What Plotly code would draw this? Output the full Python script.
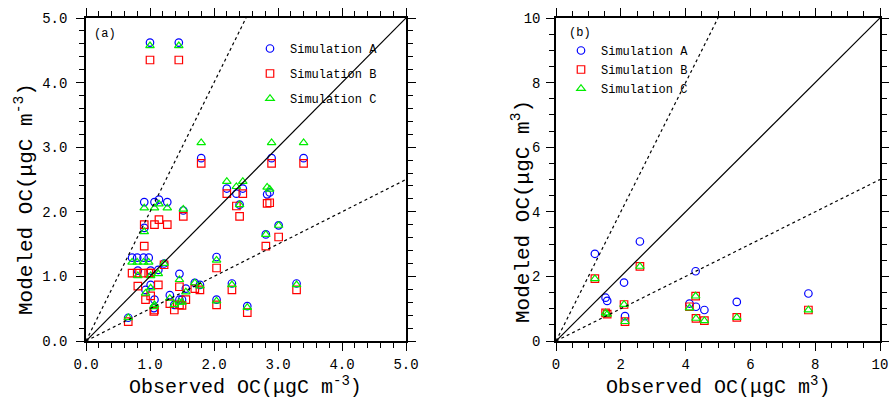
import plotly.graph_objects as go

# ---------------- Panel (a) data ----------------
obs_a = [1.00, 1.45, 1.80, 2.90, 3.40, 2.20, 2.45, 2.35, 2.40, 2.83, 2.87, 2.81, 3.01,
         1.52, 0.91, 1.07, 1.14, 1.27, 0.91, 0.72, 0.80, 0.90, 0.98, 0.81, 1.01, 1.13,
         1.22, 1.01, 0.93, 1.07, 0.66, 1.31, 1.38, 1.46, 1.46, 1.56, 1.70, 1.78, 2.04,
         2.04, 2.28, 2.52, 3.29, 1.06, 1.50]
simA_a = [4.62, 4.62, 2.83, 2.83, 2.83, 2.36, 2.36, 2.28, 2.11, 2.27, 2.30, 1.65, 1.79,
          2.02, 2.15, 2.15, 2.19, 2.15, 1.75, 1.29, 1.29, 1.29, 1.29, 1.09, 1.09, 1.10,
          1.20, 0.87, 0.79, 0.64, 0.36, 0.71, 0.56, 1.04, 0.64, 0.81, 0.90, 0.87, 1.30,
          0.64, 0.89, 0.54, 0.89, 0.51, 0.64]
simB_a = [4.35, 4.35, 2.75, 2.75, 2.75, 2.28, 2.28, 2.09, 1.93, 2.13, 2.14, 1.47, 1.61,
          1.93, 1.80, 1.80, 1.88, 1.80, 1.47, 1.05, 1.05, 1.05, 1.05, 0.85, 1.05, 0.87,
          1.18, 0.70, 0.64, 0.48, 0.30, 0.58, 0.48, 0.84, 0.56, 0.64, 0.81, 0.79, 1.13,
          0.56, 0.79, 0.44, 0.79, 0.46, 0.55]
simC_a = [4.57, 4.57, 3.07, 3.07, 3.07, 2.47, 2.47, 2.39, 2.11, 2.38, 2.35, 1.65, 1.79,
          2.04, 2.06, 2.06, 2.12, 2.06, 1.69, 1.22, 1.22, 1.22, 1.22, 1.01, 1.01, 1.04,
          1.20, 0.82, 0.74, 0.56, 0.36, 0.66, 0.56, 0.95, 0.60, 0.76, 0.90, 0.85, 1.25,
          0.62, 0.87, 0.52, 0.87, 0.53, 0.60]

# ---------------- Panel (b) data ----------------
obs_b = [1.20, 2.59, 2.10, 1.53, 1.58, 2.13, 4.31, 4.12, 4.32, 4.58, 5.58, 7.79]
simA_b = [2.70, 3.08, 1.81, 1.34, 1.24, 0.77, 2.16, 1.16, 1.06, 0.96, 1.21, 1.47]
simB_b = [1.93, 2.31, 1.13, 0.87, 0.83, 0.60, 1.39, 1.06, 0.70, 0.63, 0.73, 0.96]
simC_b = [1.93, 2.31, 1.13, 0.87, 0.83, 0.60, 1.39, 1.02, 0.70, 0.63, 0.73, 0.96]

series_names = ["Simulation A", "Simulation B", "Simulation C"]
colors = ["#0000ff", "#ff0000", "#00ee00"]
symbols = ["circle-open", "square-open", "triangle-up-open"]

AX_MAX_A = 5.0
AX_MAX_B = 10.0
tick_a = [0, 1, 2, 3, 4, 5]
tick_a_text = ["0.0", "1.0", "2.0", "3.0", "4.0", "5.0"]
tick_b = [0, 2, 4, 6, 8, 10]
tick_b_text = ["0", "2", "4", "6", "8", "10"]

FONT = "Liberation Mono"
W, H = 889, 401

fig = go.Figure()

for i, (ys, name) in enumerate(zip([simA_a, simB_a, simC_a], series_names)):
    fig.add_trace(go.Scatter(
        x=obs_a, y=ys, mode="markers", name=name, xaxis="x", yaxis="y",
        legend="legend", legendgroup="a%d" % i,
        marker=dict(symbol=symbols[i], color=colors[i], size=7.5, line=dict(width=1.2)),
    ))
for i, (ys, name) in enumerate(zip([simA_b, simB_b, simC_b], series_names)):
    fig.add_trace(go.Scatter(
        x=obs_b, y=ys, mode="markers", name=name, xaxis="x2", yaxis="y2",
        legend="legend2",
        marker=dict(symbol=symbols[i], color=colors[i], size=7.5, line=dict(width=1.2)),
    ))

# reference lines 1:1, 2:1, 1:2
for xr, yr, m in [("x", "y", AX_MAX_A), ("x2", "y2", AX_MAX_B)]:
    fig.add_shape(type="line", xref=xr, yref=yr, x0=0, y0=0, x1=m, y1=m,
                  line=dict(color="black", width=1.2))
    fig.add_shape(type="line", xref=xr, yref=yr, x0=0, y0=0, x1=m / 2, y1=m,
                  line=dict(color="black", width=1.2, dash="dot"))
    fig.add_shape(type="line", xref=xr, yref=yr, x0=0, y0=0, x1=m, y1=m / 2,
                  line=dict(color="black", width=1.2, dash="dot"))


def axis(domain, rng, tv, tt, minor_dt, anchor, standoff):
    return dict(
        domain=domain, range=rng, anchor=anchor, tickmode="array", tickvals=tv, ticktext=tt,
        ticks="outside", ticklen=8, tickwidth=1.2, tickcolor="black",
        showline=True, linecolor="black", linewidth=1.5, mirror="ticks",
        showgrid=False, zeroline=False, automargin=False,
        tickfont=dict(family=FONT, size=14, color="black"),
        minor=dict(dtick=minor_dt, tick0=0, ticks="outside", ticklen=5, tickwidth=1,
                   tickcolor="black", showgrid=False),
        ticklabelstandoff=standoff,
    )


ydom = [1 - 341 / H, 1 - 18 / H]
fig.update_layout(
    width=W, height=H, margin=dict(l=0, r=0, t=0, b=0),
    paper_bgcolor="white", plot_bgcolor="white",
    xaxis=axis([86 / W, 406 / W], [0, AX_MAX_A], tick_a, tick_a_text, 0.2, "y", 1),
    yaxis=axis(ydom, [0, AX_MAX_A], tick_a, tick_a_text, 0.2, "x", 6),
    xaxis2=axis([556 / W, 880 / W], [0, AX_MAX_B], tick_b, tick_b_text, 0.5, "y2", 1),
    yaxis2=axis(ydom, [0, AX_MAX_B], tick_b, tick_b_text, 0.5, "x2", 3),
    legend=dict(x=250 / W, y=1 - 34 / H, xanchor="left", yanchor="top",
                bgcolor="rgba(0,0,0,0)", font=dict(family=FONT, size=12, color="black"),
                tracegroupgap=6, traceorder="grouped"),
    legend2=dict(x=561 / W, y=1 - 36 / H, xanchor="left", yanchor="top",
                 bgcolor="rgba(0,0,0,0)", font=dict(family=FONT, size=12, color="black"),
                 tracegroupgap=0),
    showlegend=True,
)

ann = [
    dict(text="(a)", x=105 / W, y=1 - 34 / H),
    dict(text="(b)", x=580 / W, y=1 - 33 / H),
]
for a in ann:
    fig.add_annotation(xref="paper", yref="paper", x=a["x"], y=a["y"], text=a["text"],
                       xanchor="center", yanchor="middle",
                       showarrow=False, font=dict(family=FONT, size=12, color="black"))

titles = [
    ("Observed OC(μgC m<sup>-3</sup>)", 245, 386, 0, 20),
    ("Modeled OC(μgC m<sup>-3</sup>)", 24, 199, -90, 21),
    ("Observed OC(μgC m<sup>3</sup>)", 718, 386, 0, 20),
    ("Modeled OC(μgC m<sup>3</sup>)", 521, 212, -90, 21),
]
for t, x, y, ang, sz in titles:
    fig.add_annotation(xref="paper", yref="paper", x=x / W, y=1 - y / H, text=t,
                       textangle=ang, showarrow=False, xanchor="center", yanchor="middle",
                       font=dict(family=FONT, size=sz, color="black"))

fig.write_html("out.html")
